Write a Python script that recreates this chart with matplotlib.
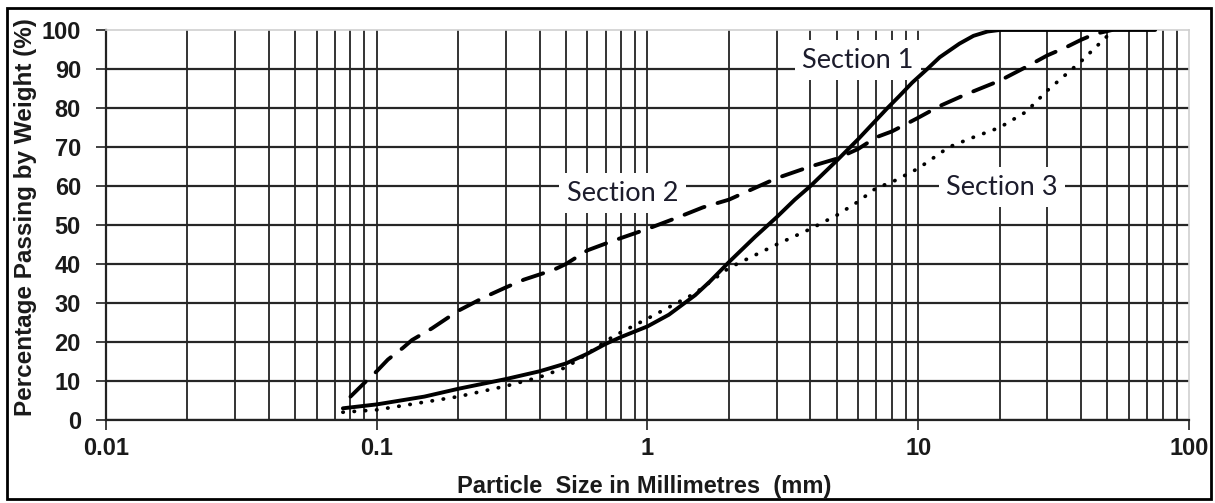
# particle size distribution - three sections
import matplotlib
matplotlib.use("Agg")
import matplotlib.pyplot as plt
import numpy as np
from matplotlib.patches import Rectangle
from matplotlib.ticker import LogLocator, FixedLocator, NullFormatter

# Section 1 (solid)
s1_size = [0.075, 0.1, 0.15, 0.2, 0.3, 0.4, 0.5, 0.6, 0.7, 0.8, 1.0, 1.2, 1.5, 1.7, 2.0, 2.5, 3.0, 3.5, 4.0, 5.0,
           6.0, 7.7, 8.5, 9.5, 10.8, 12.0, 14.2, 16.0, 18.0, 20.0, 75.0]
s1_pass = [3.0, 4.0, 6.0, 8.0, 10.5, 12.5, 14.5, 17.0, 19.5, 21.3, 24.0, 27.0, 32.0, 35.5, 40.5, 47.0, 52.0, 56.5, 60.0, 66.5,
           72.0, 80.0, 83.0, 86.5, 90.0, 93.0, 96.5, 98.5, 99.6, 100.0, 100.0]

# Section 2 (dashed)
s2_size = [0.08, 0.09, 0.1, 0.11, 0.125, 0.135, 0.16, 0.2, 0.25, 0.3, 0.35, 0.45, 0.5, 0.6, 0.75, 1.0, 1.3, 1.6, 2.0,
           3.0, 4.0, 5.0, 6.0, 7.0, 8.0, 10.0, 12.0, 15.0, 20.0, 25.0, 30.0, 35.0, 40.0, 45.0, 52.0]
s2_pass = [6.0, 9.5, 12.5, 15.5, 18.5, 20.5, 23.5, 28.0, 31.5, 34.0, 36.0, 38.5, 40.0, 43.5, 46.0, 49.0, 52.0, 54.5, 56.5,
           62.0, 65.0, 67.0, 69.5, 72.5, 74.0, 77.5, 80.5, 83.5, 87.0, 90.5, 93.5, 95.5, 97.5, 99.0, 100.0]

# Section 3 (dotted)
s3_size = [0.075, 0.1, 0.2, 0.3, 0.4, 0.5, 0.6, 0.75, 1.0, 1.5, 2.0, 3.0, 4.0, 5.0, 6.0, 7.0, 8.0, 10.0, 13.0, 16.0,
           20.0, 25.0, 30.0, 40.0, 50.0, 53.0]
s3_pass = [2.0, 2.6, 6.0, 8.7, 11.0, 13.5, 17.0, 21.5, 26.0, 32.5, 39.0, 45.0, 49.0, 52.5, 56.0, 59.5, 61.0, 64.5, 70.0, 72.5,
           75.0, 79.0, 84.5, 92.0, 98.5, 100.0]

labels = ["Section 1", "Section 2", "Section 3"]
label_pos = [(6.0, 92.3), (0.81, 58.2), (20.4, 59.7)]

xticks = [0.01, 0.1, 1, 10, 100]
xticklabels = ["0.01", "0.1", "1", "10", "100"]
yticks = list(range(0, 101, 10))

fig = plt.figure(figsize=(12.15, 5.03), dpi=100)
ax = fig.add_axes([0.0872, 0.165, 0.8914, 0.7754])

ax.set_xscale("log")
ax.set_xlim(0.01, 100)
ax.set_ylim(0, 100)

ax.plot(s1_size, s1_pass, color="black", lw=2.8, zorder=4, solid_capstyle="round", solid_joinstyle="round")
ax.plot(s2_size, s2_pass, color="black", lw=2.8, zorder=4, linestyle=(0, (5.5, 3.5)), dash_capstyle="round")
ax.plot(s3_size, s3_pass, color="black", lw=2.7, zorder=4, linestyle=(0, (0.1, 2.9)), dash_capstyle="round")

ax.xaxis.set_major_locator(FixedLocator(xticks))
ax.set_xticklabels(xticklabels)
ax.xaxis.set_minor_locator(LogLocator(base=10, subs=np.arange(2, 10)))
ax.xaxis.set_minor_formatter(NullFormatter())
ax.set_yticks(yticks)

ax.set_axisbelow(True)
ax.grid(which="both", axis="x", color="#333333", lw=1.4)
ax.grid(which="major", axis="y", color="#262626", lw=1.6)
# last gridlines coincide with the light frame
ax.xaxis.get_major_ticks()[-1].gridline.set_visible(False)
ax.yaxis.get_major_ticks()[-1].gridline.set_visible(False)

for side in ["top", "right"]:
    ax.spines[side].set_color("#cfcfcf")
    ax.spines[side].set_linewidth(1.2)
for side in ["left", "bottom"]:
    ax.spines[side].set_color("#222222")
    ax.spines[side].set_linewidth(1.6)

ax.tick_params(axis="both", which="major", direction="out", length=7, width=1.3, color="#333333",
               labelsize=17)
ax.tick_params(axis="y", which="major", pad=11)
ax.tick_params(axis="x", which="major", pad=5)
ax.tick_params(axis="x", which="minor", length=0)
for lab in ax.get_xticklabels() + ax.get_yticklabels():
    lab.set_fontfamily("Liberation Sans")
    lab.set_fontweight("bold")
    lab.set_color("#1a1a1a")

ax.set_xlabel("Particle  Size in Millimetres  (mm)", fontfamily="Liberation Sans", fontweight="bold",
              fontsize=17, color="#1a1a1a")
ax.set_ylabel("Percentage Passing by Weight (%)", fontfamily="Liberation Sans", fontweight="bold",
              fontsize=17.5, color="#1a1a1a")
ax.xaxis.set_label_coords(0.497, -0.14)
ax.yaxis.set_label_coords(-0.064, 0.52)

for txt, (lx, ly) in zip(labels, label_pos):
    ax.text(lx, ly, txt, fontfamily="Lato", fontsize=19.5, color="#1c1c2c", ha="center", va="center", zorder=3,
            bbox=dict(boxstyle="square,pad=0.28", facecolor="white", edgecolor="none"))

fig.add_artist(Rectangle((0.0058, 0.008), 0.9909, 0.976, transform=fig.transFigure, fill=False,
                         edgecolor="black", lw=2))

fig.savefig("out.png", dpi=100)
